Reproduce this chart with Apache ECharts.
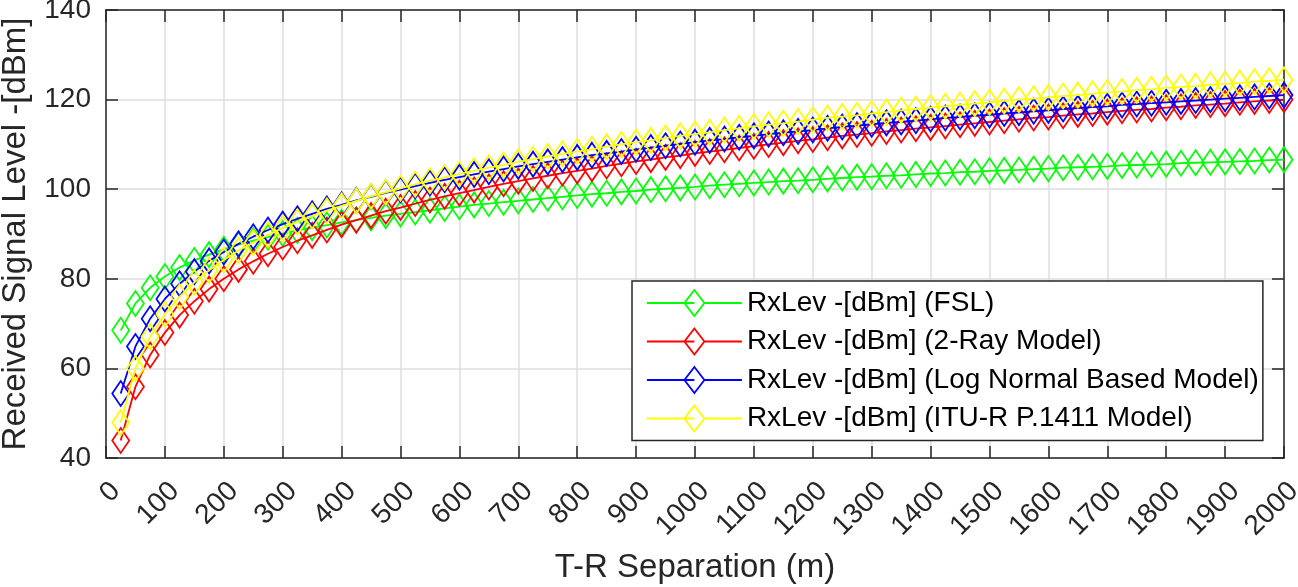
<!DOCTYPE html>
<html>
<head>
<meta charset="utf-8">
<script src="https://cdn.jsdelivr.net/npm/echarts@6/dist/echarts.min.js"></script>
<style>
html,body{margin:0;padding:0;background:#fff;}
#chart{width:1298px;height:587px;}
</style>
</head>
<body>
<div id="chart"></div>
<script>
// T-R separation (m)
const distances = [25,50,75,100,125,150,175,200,225,250,275,300,325,350,375,400,425,450,475,500,
  525,550,575,600,625,650,675,700,725,750,775,800,825,850,875,900,925,950,975,1000,
  1025,1050,1075,1100,1125,1150,1175,1200,1225,1250,1275,1300,1325,1350,1375,1400,1425,1450,1475,1500,
  1525,1550,1575,1600,1625,1650,1675,1700,1725,1750,1775,1800,1825,1850,1875,1900,1925,1950,1975,2000];

const fsl = [68.5,74.5,78.0,80.5,82.5,84.1,85.4,86.6,87.6,88.5,89.3,90.1,90.8,91.4,92.0,92.6,93.1,93.6,94.1,94.5,
  94.9,95.3,95.7,96.1,96.5,96.8,97.1,97.4,97.7,98.0,98.3,98.6,98.9,99.1,99.4,99.6,99.9,100.1,100.3,100.5,
  100.8,101.0,101.2,101.4,101.6,101.8,101.9,102.1,102.3,102.5,102.7,102.8,103.0,103.1,103.3,103.5,103.6,103.8,103.9,104.1,
  104.2,104.3,104.5,104.6,104.8,104.9,105.0,105.1,105.3,105.4,105.5,105.6,105.8,105.9,106.0,106.1,106.2,106.3,106.5,106.6];

const twoRay = [43.9,55.9,63.0,68.0,71.9,75.0,77.7,80.0,82.1,83.9,85.6,87.1,88.5,89.7,90.9,92.1,93.1,94.1,95.1,95.9,
  96.8,97.6,98.4,99.1,99.8,100.5,101.2,101.8,102.4,103.0,103.6,104.1,104.6,105.2,105.7,106.2,106.6,107.1,107.5,108.0,
  108.4,108.8,109.2,109.6,110.0,110.4,110.8,111.1,111.5,111.9,112.2,112.5,112.9,113.2,113.5,113.8,114.1,114.4,114.7,115.0,
  115.3,115.6,115.9,116.1,116.4,116.7,116.9,117.2,117.5,117.7,117.9,118.2,118.4,118.7,118.9,119.1,119.4,119.6,119.8,120.0];

const logNormal = [54.4,64.9,71.1,75.5,78.9,81.6,84.0,86.0,87.8,89.4,90.9,92.2,93.4,94.5,95.6,96.5,97.5,98.3,99.2,99.9,
  100.7,101.4,102.1,102.7,103.3,103.9,104.5,105.1,105.6,106.1,106.6,107.1,107.6,108.0,108.4,108.9,109.3,109.7,110.1,110.5,
  110.9,111.2,111.6,111.9,112.3,112.6,112.9,113.2,113.6,113.9,114.2,114.5,114.8,115.0,115.3,115.6,115.9,116.1,116.4,116.6,
  116.9,117.1,117.4,117.6,117.9,118.1,118.3,118.5,118.8,119.0,119.2,119.4,119.6,119.8,120.0,120.2,120.4,120.6,120.8,121.0];

const ituR = [47.9,60.0,67.1,72.1,76.0,79.2,81.9,84.2,86.3,88.1,89.8,91.3,92.7,94.0,95.2,96.3,97.4,98.4,99.3,100.2,
  101.1,101.9,102.6,103.4,104.1,104.8,105.4,106.1,106.7,107.3,107.9,108.4,108.9,109.5,110.0,110.5,110.9,111.4,111.9,112.3,
  112.7,113.2,113.6,114.0,114.4,114.7,115.1,115.5,115.9,116.2,116.5,116.9,117.2,117.6,117.9,118.2,118.5,118.8,119.1,119.4,
  119.7,120.0,120.2,120.5,120.8,121.0,121.3,121.6,121.8,122.1,122.3,122.6,122.8,123.0,123.3,123.5,123.7,124.0,124.2,124.4];

const seriesNames = ['RxLev -[dBm] (FSL)','RxLev -[dBm] (2-Ray Model)','RxLev -[dBm] (Log Normal Based Model)','RxLev -[dBm] (ITU-R P.1411 Model)'];
const seriesValues = [fsl, twoRay, logNormal, ituR];
const seriesColors = ['#00ff00','#ff0000','#0000ff','#ffff00'];

const FONT = '"Liberation Sans", Arial, Helvetica, sans-serif';
const AX = '#262626';
const GRID = '#dedede';

const chart = echarts.init(document.getElementById('chart'), null, {renderer:'canvas'});

const series = seriesNames.map((name, i) => ({
  name: name,
  type: 'line',
  data: distances.map((d, j) => [d, seriesValues[i][j]]),
  symbol: 'diamond',
  symbolSize: [17, 25],
  showSymbol: true,
  showAllSymbol: true,
  lineStyle: {color: seriesColors[i], width: 1.8},
  itemStyle: {color: 'rgba(0,0,0,0)', borderColor: seriesColors[i], borderWidth: 1.8},
  emphasis: {disabled: true},
  animation: false,
  z: 2 + i
}));

const legendIcon = 'path://M0,13L47.5,13M47.5,0L57.5,13L47.5,26L37.5,13ZM57.5,13L95,13';
const plainNum = v => String(v);

chart.setOption({
  animation: false,
  backgroundColor: '#fff',
  textStyle: {fontFamily: FONT},
  grid: {left: 106, top: 10, right: 14, bottom: 129, containLabel: false, outerBoundsMode: 'none'},
  xAxis: [{
    type: 'value', min: 0, max: 2000, interval: 100, position: 'bottom',
    name: 'T-R Separation (m)', nameLocation: 'middle', nameGap: 93,
    nameTextStyle: {fontSize: 33, color: AX, fontFamily: FONT},
    axisLine: {show: true, onZero: false, lineStyle: {color: AX, width: 1.5}},
    axisTick: {show: true, inside: true, length: 12, lineStyle: {color: AX, width: 1.5}},
    axisLabel: {show: true, rotate: 45, fontSize: 28, color: AX, margin: 19, verticalAlign: 'top', fontFamily: FONT, formatter: plainNum},
    splitLine: {show: true, lineStyle: {color: GRID, width: 1.5}}
  }, {
    type: 'value', min: 0, max: 2000, interval: 100, position: 'top',
    axisLine: {show: true, onZero: false, lineStyle: {color: AX, width: 1.5}},
    axisTick: {show: true, inside: true, length: 12, lineStyle: {color: AX, width: 1.5}},
    axisLabel: {show: false},
    splitLine: {show: false}
  }],
  yAxis: [{
    type: 'value', min: 40, max: 140, interval: 20, position: 'left',
    name: 'Received Signal Level -[dBm]', nameLocation: 'middle', nameGap: 74,
    nameTextStyle: {fontSize: 33, color: AX, fontFamily: FONT},
    axisLine: {show: true, onZero: false, lineStyle: {color: AX, width: 1.5}},
    axisTick: {show: true, inside: true, length: 12, lineStyle: {color: AX, width: 1.5}},
    axisLabel: {show: true, fontSize: 28, color: AX, margin: 15, fontFamily: FONT, formatter: plainNum},
    splitLine: {show: true, lineStyle: {color: GRID, width: 1.5}}
  }, {
    type: 'value', min: 40, max: 140, interval: 20, position: 'right',
    axisLine: {show: true, onZero: false, lineStyle: {color: AX, width: 1.5}},
    axisTick: {show: true, inside: true, length: 12, lineStyle: {color: AX, width: 1.5}},
    axisLabel: {show: false},
    splitLine: {show: false}
  }],
  legend: {
    show: true,
    orient: 'vertical',
    left: 632, top: 281,
    padding: [8, 4, 8, 14],
    itemGap: 10.5,
    itemWidth: 95, itemHeight: 27,
    backgroundColor: '#fff',
    borderColor: '#262626', borderWidth: 1.5,
    selectedMode: false,
    textStyle: {fontSize: 28, color: '#000', fontFamily: FONT, lineHeight: 27},
    data: seriesNames.map((n, i) => ({
      name: n,
      icon: legendIcon,
      itemStyle: {color: 'rgba(0,0,0,0)', borderColor: seriesColors[i], borderWidth: 1.8}
    }))
  },
  series: series
});
</script>
</body>
</html>
